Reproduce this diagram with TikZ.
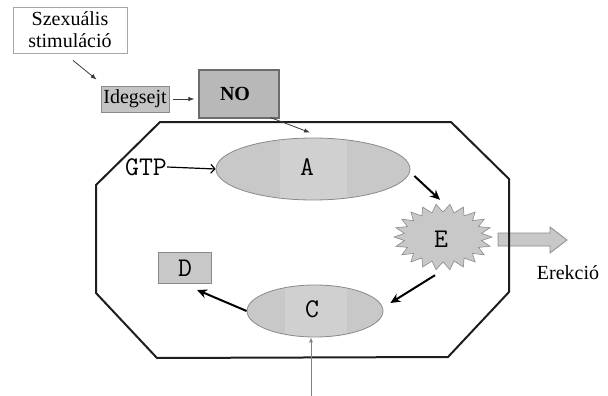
\documentclass[tikz,border=0pt]{standalone}
\usepackage{fontspec}
\setmainfont{Liberation Serif}
\usetikzlibrary{arrows.meta,calc,shapes.geometric}
\definecolor{ellfill}{HTML}{C8C8C8}
\definecolor{ellin}{HTML}{D0D0D0}
\definecolor{ellline}{HTML}{8A8A8A}
\definecolor{boxfill}{HTML}{C4C4C4}
\definecolor{nofill}{HTML}{B8B8B8}
\definecolor{octline}{HTML}{1E1E1E}
\definecolor{thinarr}{HTML}{3A3A3A}
\tikzset{
  ell/.style={ellipse, draw=ellline, fill=ellfill, line width=0.8pt, inner sep=0pt},
  gbox/.style={rectangle, draw=ellline, fill=boxfill, line width=0.8pt, inner sep=0pt},
  thick arrow/.style={line width=2pt, -{Stealth[length=10pt,width=9pt]}, black},
  thin arrow/.style={line width=0.8pt, -{Latex[length=6pt,width=4.5pt]}, thinarr},
  serif20/.style={font=\fontsize{20}{22}\selectfont},
  mono24/.style={font=\ttfamily\fontsize{27}{27}\selectfont}
}
\begin{document}
\begin{tikzpicture}[x=1pt,y=-1pt]
\useasboundingbox (0,0) rectangle (608,396);
% Erekcio block arrow
\draw[fill=ellfill, draw=ellline, line width=0.8pt]
  (498,233) -- (550,233) -- (550,227) -- (567,240) -- (550,253) -- (550,246) -- (498,246) -- cycle;
% octagon cell
\draw[octline, line width=2pt, line join=miter]
  (160,122) -- (451,122) -- (509,179) -- (509,292) -- (448,357) -- (157,358) -- (96,293) -- (96,185) -- cycle;
% boxes
\node[rectangle, draw=gray!70, fill=white, line width=0.8pt, minimum width=114pt, minimum height=46pt, inner sep=0pt, align=center, serif20] (Sz) at (70,30) {Szexuális\\stimuláció};
\node[gbox, minimum width=68pt, minimum height=26pt, serif20] (Ideg) at (135,99) {Idegsejt};
\node[rectangle, draw=gray!85!black, fill=nofill, line width=1.2pt, minimum width=80pt, minimum height=48pt, inner sep=0pt, font=\bfseries\fontsize{20}{22}\selectfont] (NO) at (239,94) {\hspace*{-8pt}NO};
\node[gbox, fill=ellfill, minimum width=53pt, minimum height=31pt, mono24] (D) at (185,268) {D};
% ellipses
\node[ell, minimum width=194pt, minimum height=62pt,
  path picture={\fill[ellin] ($(path picture bounding box.center)+(-33,-31)$) rectangle ($(path picture bounding box.center)+(34,31)$);}] (A) at (313,169) {};
\node[mono24] at (307,167) {A};
\node[ell, minimum width=136pt, minimum height=52pt,
  path picture={\fill[ellin] ($(path picture bounding box.center)+(-30,-26)$) rectangle ($(path picture bounding box.center)+(32,26)$);}] (C) at (315,311) {};
\node[mono24] at (312,309) {C};
% starburst E
\fill[ellfill] plot[samples at={0,...,43}, variable=\i] ({443+ifthenelse(mod(\i,2)==0,49,39)*cos(\i*360/44)}, {237+ifthenelse(mod(\i,2)==0,33,25)*sin(\i*360/44)}) -- cycle;
\draw[ellline, line width=0.6pt] plot[samples at={0,...,43}, variable=\i] ({443+ifthenelse(mod(\i,2)==0,49,39)*cos(\i*360/44)}, {237+ifthenelse(mod(\i,2)==0,33,25)*sin(\i*360/44)}) -- cycle;
\node[ellipse, minimum width=98pt, minimum height=66pt, inner sep=0pt, mono24] (E) at (441,239) {E};
% texts
\node[mono24, inner sep=0pt] (GTP) at (146,167) {GTP};
\node[serif20, inner sep=0pt] (Ere) at (568,273) {Erekció};
\coordinate (bot) at (311,396);
% connectors
\draw[thin arrow] ($(Sz.south)+(3,7)$) -- ($(Ideg.north west)+(-4,-6)$);
\draw[thin arrow] ($(Ideg.east)+(4,0)$) -- ($(NO.west)+(-4,5)$);
\draw[thin arrow] ($(NO.south east)+(-9,-1)$) -- ($(A.north)+(-3,-5)$);
\draw[line width=1.2pt, -{Straight Barb[length=4pt,width=9pt]}] (GTP.east) -- (A.west);
\draw[thick arrow] ($(A.east)+(4,7)$) -- ($(E.north)+(-1,-6)$);
\draw[thick arrow] ($(E.south)+(-6,3)$) -- ($(C.east)+(7,-8)$);
\draw[thick arrow] (C.west) -- ($(D.south)+(12,6)$);
\draw[line width=0.8pt, gray, -{Latex[length=5pt,width=4pt]}] (bot) -- (bot |- C.south);
\end{tikzpicture}
\end{document}
